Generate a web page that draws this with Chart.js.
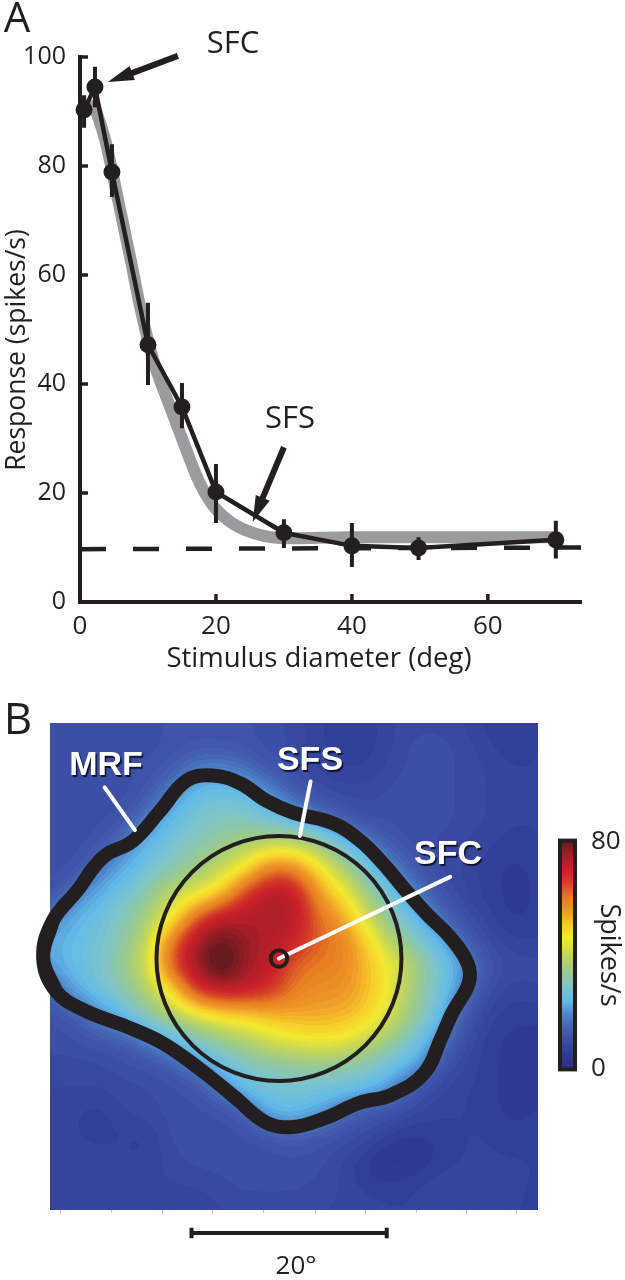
<!DOCTYPE html>
<html>
<head>
<meta charset="utf-8">
<style>
  html, body { margin: 0; padding: 0; background: #fff; }
  #page { position: relative; width: 625px; height: 1280px; overflow: hidden; }
  canvas { position: absolute; }
</style>
<script src="https://cdn.jsdelivr.net/npm/chart.js@4"></script>
</head>
<body>
<div id="page">
  <canvas id="tuning" width="625" height="690" style="left:0;top:0"></canvas>
  <canvas id="map" width="625" height="590" style="left:0;top:690px"></canvas>
  <canvas id="bar" width="85" height="274" style="left:540px;top:818px"></canvas>
</div>
<script>
// Panel A, size tuning curve
const diameters = [0.6, 2.2, 4.7, 10, 15, 20, 30, 40, 49.8, 70];
const responses = [90.3, 94.5, 78.9, 47.2, 35.8, 20.2, 12.7, 10.3, 9.9, 11.4];
const errLow = [87, 90.8, 74.3, 39.8, 31.9, 14.5, 9.9, 6.4, 7.7, 8];
const errHigh = [93, 98.2, 84, 54.9, 40.2, 25.3, 15.2, 14.5, 11.9, 14.9];
const fitX = [1.8, 3.7, 5.6, 7.4, 9.1, 11, 13.1, 15.3, 17.4, 19.4, 21.8, 24.3, 27.2, 30.9, 39.7, 69.6];
const fitY = [92.1, 84.8, 73.8, 63.1, 52.7, 43.5, 36.3, 29, 22.4, 18, 15, 13.2, 12.1, 11.7, 11.9, 11.9];
const baselineX = [0, 73.7];
const baselineY = [9.7, 10];
const xTicksA = [0, 20, 40, 60];
const yTicksA = [0, 20, 40, 60, 80, 100];

// Panel B, response map in degrees of visual field, top row first, 2.5 deg apart
const mapSize = 50;
const mapValues = [
  [10,10,10,10,10,11,11,11,11,10,9,7,6,6,8,9,9,8,6,6,7],
  [10,10,10,10,10,11,12,12,11,10,9,7,6,6,8,10,10,9,7,6,7],
  [10,10,10,10,11,13,19,20,17,12,10,8,7,7,9,10,10,9,8,7,7],
  [10,10,10,10,12,20,26,27,26,21,14,10,9,9,10,10,10,9,8,7,7],
  [10,10,10,11,19,25,28,30,30,27,24,19,13,10,10,10,10,9,8,7,7],
  [10,10,11,18,24,28,31,34,37,40,41,36,27,19,12,10,9,8,7,6,7],
  [10,10,17,23,27,31,35,40,47,62,60,48,38,28,19,12,9,8,6,5,6],
  [10,18,23,27,32,40,43,50,68,74,74,56,47,35,26,18,11,8,6,5,6],
  [18,23,26,30,37,45,64,74,74,74,74,62,55,42,31,24,16,10,7,5,6],
  [22,25,27,32,40,62,76,82,76,74,70,62,60,50,38,30,24,14,9,7,7],
  [21,25,28,34,42,65,76,86,76,72,62,60,59,52,46,36,28,21,11,9,9],
  [14,22,26,31,38,47,68,72,72,68,60,57,57,52,44,34,27,17,9,7,8],
  [10,13,19,24,32,38,42,48,49,52,54,54,53,50,42,33,25,12,7,6,6],
  [10,10,12,13,18,24,30,34,38,43,45,47,46,41,34,27,19,9,6,5,5],
  [9,9,9,10,11,13,19,25,29,31,33,34,33,30,26,23,11,8,6,5,5],
  [8,8,8,9,9,10,11,18,26,27,27,27,26,25,20,11,8,7,6,5,5],
  [8,7,6,8,9,10,10,10,13,24,25,22,15,11,10,8,7,7,6,5,6],
  [8,7,6,7,6,10,10,10,10,11,13,11,10,9,6,5,6,7,7,6,6],
  [8,8,8,7,7,9,10,10,10,10,10,10,8,5,3,4,6,7,7,7,7],
  [8,8,8,7,8,8,8,9,10,10,10,9,8,6,6,7,8,8,8,8,6],
  [8,8,8,8,7,7,7,8,8,8,8,8,8,8,7,7,8,8,8,7,6]
];
const colorLevels = [0, 5, 10, 14, 19, 24, 29, 34, 40, 46, 50, 56, 60, 66, 70, 74, 80];
const colorValues = ['#2b2f8c', '#2f3a94', '#3c4ea5', '#4360ae', '#4f86cc', '#62bbea', '#7fc4c8', '#98c98e', '#c3d65a', '#f4e92f', '#f6cf2b', '#ee9527', '#e67e22', '#d43a28', '#c9202a', '#b01f28', '#6a1a1e'];
const mapTicks = [1.1, 6.3, 11.5, 16.6, 21.9, 27.2, 32.3, 37.5, 42.7, 47.8];
const barTicks = [0, 80];

// closed outline, the first and last points overlap so the curve has no kink where it closes
const mrfX = [0.6, -0.7, 0.3, 2.8, 5.4, 8.5, 11.3, 14, 16.7, 19.5, 22.2, 24.9, 29, 31.8, 34.1, 36.2, 38.6, 41, 42.8, 42.9, 41.2, 40.1, 38.3, 34.9, 31.7, 28.1, 24.7, 22.1, 18.9, 15.3, 11.6, 7.9, 3.5, 0.6, -0.7, 0.3];
const mrfY = [22.5, 25.9, 29.7, 32.8, 36.2, 37.9, 41, 44.1, 44.6, 43.8, 42, 40.8, 39.7, 37.9, 35.6, 33.1, 30.4, 28, 25.3, 23.3, 20.2, 17.7, 14, 11.8, 11, 9.4, 8.5, 9, 11.6, 14.5, 17.1, 18.8, 20.5, 22.5, 25.9, 29.7];
const centre = { x: 23.46, y: 25.82 };
const sfsRadius = 12.55;
const sfcRadius = 0.85;
const scaleBarX = [14.5, 34.5];
const scaleBarY = -2.36;
const scaleBarCap = 0.55;

const ink = '#231f20';
const font = '"Open Sans"';

function zip(xs, ys) {
  return xs.map((x, i) => ({ x: x, y: ys[i] }));
}

// separate segments go in one dataset, a null between them breaks the line
function segments(list) {
  const out = [];
  list.forEach(s => {
    out.push({ x: s[0], y: s[1] }, { x: s[2], y: s[3] }, { x: s[2], y: null });
  });
  return out;
}

function drawTexts(ctx, texts) {
  texts.forEach(t => {
    ctx.save();
    ctx.translate(t.x, t.y);
    if (t.angle) ctx.rotate(t.angle);
    ctx.font = t.font;
    ctx.textAlign = 'center';
    ctx.textBaseline = 'middle';
    ctx.fillStyle = t.color || ink;
    if (t.shadow) {
      ctx.shadowColor = '#0c1430';
      ctx.shadowOffsetX = 1.5;
      ctx.shadowOffsetY = 2;
      ctx.shadowBlur = 1;
    }
    ctx.fillText(t.text, 0, 0);
    ctx.restore();
  });
}

const textsA = [
  { text: 'A', x: 17, y: 20, font: '42px ' + font },
  { text: 'SFC', x: 233, y: 44, font: '31px ' + font },
  { text: 'SFS', x: 290, y: 419, font: '31px ' + font },
  { text: 'Stimulus diameter (deg)', x: 319, y: 659, font: '27.5px ' + font },
  { text: 'Response (spikes/s)', x: 17, y: 350, angle: -Math.PI / 2, font: '26.5px ' + font }
];
const textsB = [
  { text: 'B', x: 18, y: 31, font: '44px ' + font },
  { text: 'MRF', x: 106, y: 76, color: '#fff', shadow: true, font: 'bold 34px "Liberation Sans"' },
  { text: 'SFS', x: 310, y: 71, color: '#fff', shadow: true, font: 'bold 34px "Liberation Sans"' },
  { text: 'SFC', x: 448, y: 165, color: '#fff', shadow: true, font: 'bold 34px "Liberation Sans"' },
  { text: '20°', x: 296, y: 577, font: '26px ' + font }
];

// arrows of panel A, in data units
const arrowsA = [
  { from: [14.4, 100.2], to: [4.1, 95.4] },
  { from: [30, 28.4], to: [25.4, 14.7] }
];

const tuningDecor = {
  id: 'tuningDecor',
  afterDraw(chart) {
    const ctx = chart.ctx, x = chart.scales.x, y = chart.scales.y;
    const a = chart.chartArea;
    ctx.save();
    ctx.strokeStyle = ink;
    ctx.fillStyle = ink;
    ctx.lineWidth = 3.5;
    xTicksA.slice(1).forEach(v => {
      const p = x.getPixelForValue(v);
      ctx.beginPath(); ctx.moveTo(p, a.bottom); ctx.lineTo(p, a.bottom - 8); ctx.stroke();
    });
    yTicksA.slice(1).forEach(v => {
      const p = y.getPixelForValue(v);
      ctx.beginPath(); ctx.moveTo(a.left, p); ctx.lineTo(a.left + 8, p); ctx.stroke();
    });
    arrowsA.forEach(arrow => {
      const x0 = x.getPixelForValue(arrow.from[0]), y0 = y.getPixelForValue(arrow.from[1]);
      const x1 = x.getPixelForValue(arrow.to[0]), y1 = y.getPixelForValue(arrow.to[1]);
      const ang = Math.atan2(y1 - y0, x1 - x0);
      ctx.save();
      ctx.translate(x1, y1);
      ctx.rotate(ang);
      const len = Math.hypot(x1 - x0, y1 - y0);
      ctx.fillRect(-len, -3, len - 20, 6);
      ctx.beginPath();
      ctx.moveTo(0, 0);
      ctx.lineTo(-26, -7.5);
      ctx.lineTo(-26, 7.5);
      ctx.closePath();
      ctx.fill();
      ctx.restore();
    });
    ctx.restore();
    drawTexts(ctx, textsA);
  }
};

function colorAt(v) {
  let i = 0;
  while (i < colorLevels.length - 2 && v > colorLevels[i + 1]) i++;
  const t = Math.min(1, Math.max(0, (v - colorLevels[i]) / (colorLevels[i + 1] - colorLevels[i])));
  const c0 = hex(colorValues[i]), c1 = hex(colorValues[i + 1]);
  return [c0[0] + (c1[0] - c0[0]) * t, c0[1] + (c1[1] - c0[1]) * t, c0[2] + (c1[2] - c0[2]) * t];
}
function hex(s) {
  return [parseInt(s.slice(1, 3), 16), parseInt(s.slice(3, 5), 16), parseInt(s.slice(5, 7), 16)];
}
// cubic B-spline between grid rows and columns, no overshoot around the steep edges
function cubic(a, b, c, d, t) {
  const u = 1 - t;
  return (u * u * u * a + (3 * t * t * t - 6 * t * t + 4) * b + (-3 * t * t * t + 3 * t * t + 3 * t + 1) * c + t * t * t * d) / 6;
}
function sampleMap(gx, gy) {
  const n = mapValues.length;
  const i = Math.min(n - 2, Math.floor(gx)), j = Math.min(n - 2, Math.floor(gy));
  const cl = k => Math.max(0, Math.min(n - 1, k));
  const rows = [];
  for (let r = -1; r < 3; r++) {
    const row = mapValues[cl(j + r)];
    rows.push(cubic(row[cl(i - 1)], row[cl(i)], row[cl(i + 1)], row[cl(i + 2)], gx - i));
  }
  return cubic(rows[0], rows[1], rows[2], rows[3], gy - j);
}

const heatLayer = {
  id: 'heatLayer',
  beforeDatasetsDraw(chart) {
    const a = chart.chartArea, x = chart.scales.x, y = chart.scales.y;
    const w = Math.round(a.right - a.left), h = Math.round(a.bottom - a.top);
    const off = document.createElement('canvas');
    off.width = w; off.height = h;
    const octx = off.getContext('2d');
    const img = octx.createImageData(w, h);
    const step = mapSize / (mapValues.length - 1);
    for (let py = 0; py < h; py++) {
      const gy = (mapSize - y.getValueForPixel(a.top + py + 0.5)) / step;
      for (let px = 0; px < w; px++) {
        const gx = x.getValueForPixel(a.left + px + 0.5) / step;
        // the original colormap has 64 levels, the contour bands show
        const v = Math.round(sampleMap(gx, gy) / 1.25) * 1.25;
        const c = colorAt(v);
        const o = (py * w + px) * 4;
        img.data[o] = c[0]; img.data[o + 1] = c[1]; img.data[o + 2] = c[2]; img.data[o + 3] = 255;
      }
    }
    octx.putImageData(img, 0, 0);
    chart.ctx.drawImage(off, a.left, a.top, a.right - a.left, a.bottom - a.top);
  },
  afterDraw(chart) {
    drawTexts(chart.ctx, textsB);
  }
};

function pxPerDeg(ctx) {
  const x = ctx.chart.scales.x;
  return x.getPixelForValue(1) - x.getPixelForValue(0);
}

const barLayer = {
  id: 'barLayer',
  beforeDatasetsDraw(chart) {
    const ctx = chart.ctx, a = chart.chartArea, y = chart.scales.y;
    const g = ctx.createLinearGradient(0, y.getPixelForValue(80), 0, y.getPixelForValue(0));
    colorLevels.forEach((v, i) => g.addColorStop(1 - v / 80, colorValues[i]));
    ctx.save();
    ctx.fillStyle = g;
    ctx.fillRect(a.left, a.top, a.right - a.left, a.bottom - a.top);
    ctx.strokeStyle = ink;
    ctx.lineWidth = 4;
    ctx.strokeRect(a.left, a.top - 1, a.right - a.left, a.bottom - a.top + 2);
    ctx.restore();
  }
};

new Chart(document.getElementById('tuning'), {
  type: 'line',
  plugins: [tuningDecor],
  data: {
    datasets: [
      { data: zip(diameters, responses), borderColor: ink, backgroundColor: ink, borderWidth: 4.5, pointRadius: 8.5, pointBorderWidth: 0, clip: false, order: 1 },
      { data: segments(diameters.map((d, i) => [d, errLow[i], d, errHigh[i]])), borderColor: ink, borderWidth: 4, pointRadius: 0, clip: false, order: 2 },
      { data: zip(baselineX, baselineY), borderColor: ink, borderWidth: 4.5, borderDash: [26, 27], pointRadius: 0, order: 3 },
      { data: zip(fitX, fitY), borderColor: '#9b9b9e', borderWidth: 12, pointRadius: 0, cubicInterpolationMode: 'monotone', clip: false, order: 4 }
    ]
  },
  options: {
    responsive: false,
    animation: false,
    events: [],
    layout: { padding: { top: 57, right: 44 } },
    plugins: { legend: { display: false }, tooltip: { enabled: false } },
    scales: {
      x: {
        type: 'linear', min: 0, max: 73.7,
        afterBuildTicks: s => { s.ticks = xTicksA.map(v => ({ value: v })); },
        afterFit: s => { s.height = 88; },
        grid: { display: false },
        border: { color: ink, width: 4 },
        ticks: { color: ink, font: { family: 'Open Sans', size: 26 }, padding: 1, maxRotation: 0 }
      },
      y: {
        min: 0, max: 100,
        afterBuildTicks: s => { s.ticks = yTicksA.map(v => ({ value: v })); },
        afterFit: s => { s.width = 80; },
        grid: { display: false },
        border: { color: ink, width: 4 },
        ticks: { color: ink, font: { family: 'Open Sans', size: 25 }, padding: 6 }
      }
    }
  }
});

new Chart(document.getElementById('map'), {
  type: 'line',
  plugins: [heatLayer],
  data: {
    datasets: [
      { type: 'scatter', data: [centre], pointRadius: ctx => sfcRadius * pxPerDeg(ctx), pointBorderWidth: 4, pointBorderColor: ink, pointBackgroundColor: 'rgba(0,0,0,0)', clip: false, order: 1 },
      { data: segments([
          [5.6, 43.4, 8.7, 39],
          [26.7, 44, 25.6, 38.4],
          [41, 34.2, centre.x, centre.y]
        ]), borderColor: '#fff', borderWidth: 4, borderCapStyle: 'round', pointRadius: 0, clip: false, order: 2 },
      { type: 'scatter', data: [centre], pointRadius: ctx => sfsRadius * pxPerDeg(ctx), pointBorderWidth: 4, pointBorderColor: ink, pointBackgroundColor: 'rgba(0,0,0,0)', clip: false, order: 3 },
      { data: zip(mrfX, mrfY), borderColor: ink, borderWidth: 14, borderJoinStyle: 'round', tension: 0.4, pointRadius: 0, clip: false, order: 4 },
      { data: segments([
          [scaleBarX[0], scaleBarY, scaleBarX[1], scaleBarY],
          [scaleBarX[0], scaleBarY - scaleBarCap, scaleBarX[0], scaleBarY + scaleBarCap],
          [scaleBarX[1], scaleBarY - scaleBarCap, scaleBarX[1], scaleBarY + scaleBarCap]
        ]), borderColor: ink, borderWidth: 4, pointRadius: 0, clip: false, order: 5 }
    ]
  },
  options: {
    responsive: false,
    animation: false,
    events: [],
    layout: { padding: { top: 33, left: 50, right: 87 } },
    plugins: { legend: { display: false }, tooltip: { enabled: false } },
    scales: {
      x: {
        type: 'linear', min: 0, max: mapSize,
        afterBuildTicks: s => { s.ticks = mapTicks.map(v => ({ value: v })); },
        afterFit: s => { s.height = 70; },
        grid: { drawOnChartArea: false, tickLength: 3, color: '#b8c4dc', tickColor: '#b8c4dc' },
        border: { display: false },
        ticks: { display: false }
      },
      y: { type: 'linear', min: 0, max: mapSize, display: false }
    }
  }
});

new Chart(document.getElementById('bar'), {
  type: 'scatter',
  plugins: [barLayer],
  data: { datasets: [{ data: [] }] },
  options: {
    responsive: false,
    animation: false,
    events: [],
    layout: { padding: { left: 20 } },
    plugins: { legend: { display: false }, tooltip: { enabled: false } },
    scales: {
      x: { min: 0, max: 1, display: false },
      y: {
        position: 'right', min: 0, max: 80,
        afterBuildTicks: s => { s.ticks = barTicks.map(v => ({ value: v })); },
        afterFit: s => { s.width = 50; },
        grid: { display: false },
        border: { display: false },
        ticks: { color: ink, font: { family: 'Open Sans', size: 26 }, padding: 8 },
        title: { display: true, text: 'Spikes/s', color: ink, font: { family: 'Open Sans', size: 27 }, padding: 0 }
      }
    }
  }
});
</script>
</body>
</html>
